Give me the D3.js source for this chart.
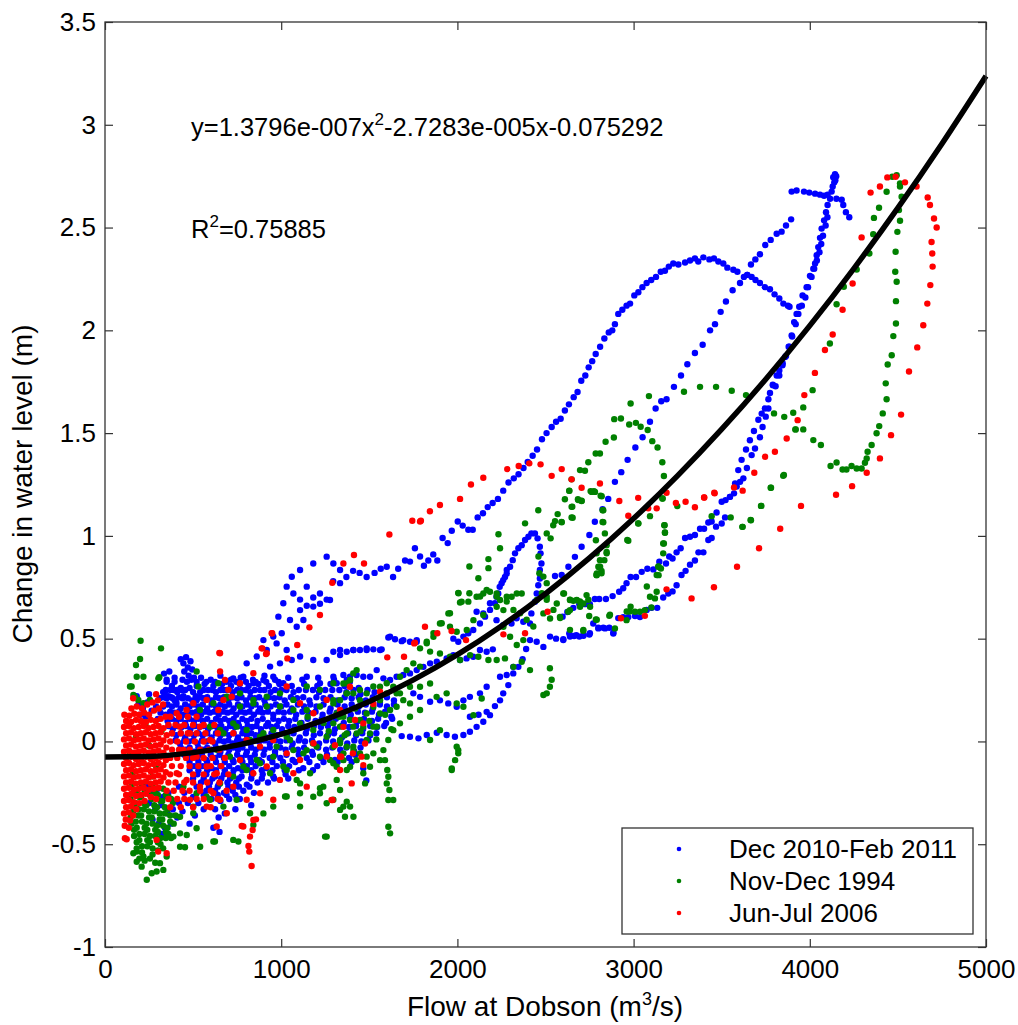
<!DOCTYPE html>
<html>
<head>
<meta charset="utf-8">
<script src="https://cdn.jsdelivr.net/npm/d3@7"></script>
<style>
  body { margin: 0; background: #fff; }
  text { font-family: "Liberation Sans", Arial, sans-serif; fill: #000; }
</style>
</head>
<body>
<svg id="chart" width="1018" height="1025"></svg>
<script>
// axis ticks
const xTicks = [0, 1000, 2000, 3000, 4000, 5000];
const yTicks = [-1, -0.5, 0, 0.5, 1, 1.5, 2, 2.5, 3, 3.5];

const seriesNames = ["Dec 2010-Feb 2011", "Nov-Dec 1994", "Jun-Jul 2006"];
const seriesColors = ["#0000ff", "#008000", "#ff0000"];

// quadratic fit printed on the chart: y = a x^2 + b x + c
const fitCoef = [1.3796e-7, -2.7283e-5, -0.075292];
const fitX = [0, 250, 500, 750, 1000, 1250, 1500, 1750, 2000, 2250, 2500, 2750, 3000, 3250, 3500, 3750, 4000, 4250, 4500, 4750, 5000];

// ---- Dec 2010-Feb 2011 (blue) ----
const blueTracks = [
  [1107,0.69],[1145,0.66],[1182,0.70],[1220,0.67],[1258,0.69],[1295,0.78],[1334,0.77],[1370,0.80],[1408,0.83],[1445,0.82],[1485,0.80],[1530,0.82],[1565,0.84],[1599,0.85],[1635,0.80],[1664,0.84],[1703,0.88],[1731,0.875],[1759,0.94],[1788,0.90],[1810,0.855],[1835,0.88],[1863,0.91],[1886,0.88],[1916,0.99],[1945,0.965],[1968,1.025],[2002,1.07],[2030,1.05],[2062,1.03],[2087,1.03],[2115,1.09],[2145,1.11],[2172,1.14],[2200,1.16],[2230,1.18],[2260,1.22],[2290,1.26],[2320,1.28],[2347,1.30],[2375,1.33],[2399,1.36],[2427,1.39],[2452,1.42],[2480,1.47],[2506,1.50],[2535,1.53],[2560,1.555],[2586,1.57],[2610,1.61],[2633,1.64],[2660,1.675],[2682,1.70],[2703,1.755],[2726,1.78],[2745,1.82],[2765,1.85],[2785,1.885],[2810,1.92],[2834,1.96],[2859,1.99],[2879,2.0],[2894,2.03],[2913,2.08],[2936,2.10],[2960,2.12],[2980,2.13],[3004,2.17],[3027,2.185],[3050,2.21],[3074,2.23],[3100,2.245],[3127,2.26],[3154,2.285],[3178,2.29],[3200,2.31],[3225,2.325],[3254,2.32],[3292,2.33],[3320,2.34],[3348,2.35],[3367,2.335],[3396,2.355],[3430,2.345],[3456,2.35],[3481,2.335],[3509,2.325],[3532,2.305],[3566,2.295],[3589,2.285],[3626,2.26],[3645,2.27],[3670,2.26],[3692,2.245],[3717,2.23],[3745,2.21],[3774,2.20],[3800,2.175],[3827,2.155],[3850,2.13],[3876,2.12],[3885,2.115],
  [2554,0.805],[2592,0.81],[2630,0.85],[2667,0.898],[2705,0.947],[2749,1.004],[2780,1.069],[2824,1.13],[2856,1.18],[2894,1.263],[2930,1.31],[2966,1.37],[3010,1.43],[3051,1.48],[3093,1.555],[3125,1.62],[3157,1.655],[3187,1.665],[3229,1.725],[3269,1.78],[3305,1.835],[3348,1.89],[3392,1.93],[3434,2.0],[3462,2.03],[3494,2.09],[3524,2.14],[3562,2.195],[3604,2.23],[3645,2.27],[3666,2.32],[3691,2.345],[3717,2.37],[3747,2.415],[3778,2.44],[3812,2.47],[3840,2.48],[3865,2.51],[3894,2.54],
  [3897,2.675],[3925,2.68],[3967,2.675],[3997,2.67],[4030,2.665],[4058,2.66],[4081,2.655],[4101,2.66],[4143,2.76],[4133,2.745],[4139,2.72],[4130,2.70],[4124,2.675],[4115,2.64],[4151,2.64],[4181,2.635],[4190,2.61],[4205,2.575],[4224,2.55],[4145,2.73],[4150,2.75],
  [4101,2.61],[4092,2.575],[4081,2.535],[4067,2.495],[4058,2.45],[4048,2.405],[4039,2.365],[4030,2.325],[4020,2.30],[4001,2.265],[3982,2.21],[3959,2.17],[3940,2.115],[3925,2.08],[3911,2.04],[3897,1.975],[3884,1.92],[3865,1.875],[3846,1.84],[3827,1.805],[3812,1.78],[3790,1.735],[3774,1.695],[3765,1.665],[3745,1.62],[3727,1.595],[3708,1.565],[3683,1.51],[3660,1.465],[3638,1.42],[3613,1.37],[3594,1.32],[3576,1.255],[3547,1.19],[3519,1.09],[3500,1.06],[3468,1.045],[3443,0.99],[3424,0.98],[3396,0.92],[3368,0.92],[3348,0.88],[3320,0.86],[3295,0.83],[3272,0.81],[3244,0.76],[3221,0.73],[3197,0.72],[3168,0.70],[3134,0.65],[3102,0.65],[3074,0.64],[3036,0.605],[3008,0.61],[2970,0.605],[2941,0.605],[2913,0.60],[2885,0.525],[2862,0.553],[2828,0.553],[2800,0.553],[2771,0.574],[2749,0.52],[2715,0.514],[2692,0.51],[2662,0.513],[2635,0.525],[2601,0.497],
  [2597,0.607],[2624,0.63],[2658,0.65],[2692,0.667],[2724,0.668],[2752,0.668],[2780,0.693],[2805,0.693],[2843,0.693],[2881,0.707],[2918,0.728],[2941,0.745],[2960,0.77],[2983,0.80],[3014,0.80],[3046,0.825],[3078,0.84],[3112,0.837],[3146,0.874],[3184,0.866],[3202,0.90],[3221,0.89],[3244,0.92],[3267,0.94],[3292,0.99],[3320,0.996],[3348,1.004],[3377,1.035],[3400,1.035],[3424,1.065],[3443,1.07],[3471,1.114],[3500,1.166],[3522,1.174],[3547,1.19],[3570,1.207],[3585,1.24],[3604,1.263],[3623,1.28],[3643,1.33],[3670,1.393],[3689,1.425],[3717,1.48],[3732,1.53],[3750,1.58],[3765,1.62],[3791,1.733],[3806,1.728],[3827,1.78],[3845,1.83],[3860,1.87],[3880,1.92],[3900,1.97],[3920,2.03],[3935,2.08],[3955,2.12],[3975,2.16],[3990,2.21],[4010,2.26],[4025,2.30],[4040,2.34],[4055,2.38],[4065,2.42],[4075,2.46],[4090,2.51],[4100,2.55],
  [1977,0.50],[2005,0.485],[2034,0.51],[2062,0.526],[2090,0.542],[2128,0.574],[2157,0.607],[2185,0.64],[2213,0.672],[2232,0.72],[2251,0.77],[2270,0.80],[2280,0.834],[2299,0.85],[2314,0.882],[2327,0.915],[2346,0.94],[2365,0.955],[2384,0.98],[2403,0.996],[2420,1.012],[2440,1.012],[2455,0.988],[2468,0.947],[2472,0.915],[2477,0.866],[2468,0.834],[2468,0.793],[2459,0.76],[2450,0.72],[2440,0.68],[2420,0.623],
  [1296,0.436],[1334,0.42],[1372,0.436],[1409,0.445],[1447,0.445],[1485,0.453],[1523,0.448],[1570,0.448],[1608,0.506],[1646,0.497],[1684,0.488],[1731,0.485],[1769,0.493],
  [1684,0.026],[1731,0.023],[1779,0.015],[1826,0.031],[1883,0.042],[1939,0.031],[1986,0.023],[2034,0.031],[2071,0.047],[2109,0.071],[2147,0.096],[2185,0.128],[2213,0.172],[2242,0.20],[2260,0.234],[2289,0.274],[2317,0.331],[2346,0.363],[2370,0.40],[2390,0.45],
  [2412,0.493],[2450,0.485],[2488,0.46],[2526,0.51],[2560,0.50],[2601,0.493],[2639,0.51],[2675,0.517],[2715,0.517],[2752,0.526],[2800,0.55],[2838,0.55],[2885,0.529],
  [2109,0.631],[2147,0.623],[2185,0.672],[2222,0.704],[2240,0.752],[2260,0.785],[2280,0.817],[2222,0.59],[2260,0.566],[2307,0.574],[2336,0.599],[2374,0.582],[2412,0.574],
  [2201,0.448],[2166,0.436],[2128,0.445],[2090,0.412],[2052,0.404],[2015,0.396],[1977,0.42],[1939,0.404],[1883,0.388],[1845,0.38],[1807,0.363],[1769,0.347],[1731,0.331],[1693,0.323],[1655,0.315],[1618,0.299],[1580,0.307],[1542,0.347],[1504,0.315],[1466,0.315],[1428,0.323],[1390,0.315],[1353,0.323],[1315,0.283],
  [1750,0.234],[1788,0.217],[1845,0.193],[1901,0.20],[1948,0.185],[1996,0.169],[2034,0.20],[2071,0.217],[2128,0.234],[2166,0.266],[2242,0.315],[2280,0.323],[2317,0.363],[2071,0.12],[2120,0.13],[2166,0.144]
];
const blueCloud = [
  [430,0.40],[445,0.38],[460,0.41],[470,0.36],[485,0.39],[450,0.34],[475,0.32],[495,0.35],[440,0.30],[465,0.29],[490,0.30],[505,0.31],[455,0.25],[480,0.26],[500,0.24],[430,0.26],[445,0.22],[470,0.21],[495,0.20],[515,0.22],
  [335,0.33],[350,0.30],[365,0.34],[380,0.27],[395,0.31],[410,0.25],[340,0.24],[360,0.22],[385,0.21],[405,0.19],
  [190,0.18],[215,0.16],[240,0.19],[265,0.15],[290,0.17],[315,0.14],[230,0.12],[300,0.11],[200,0.13],[180,0.22],[250,0.23],[310,0.21],
  [545,0.31],[600,0.30],[655,0.32],[715,0.30],[770,0.31],[840,0.30],[905,0.32],[965,0.30],[1040,0.31],[1120,0.30],[1210,0.31],[1300,0.30],[1390,0.29],
  [520,0.27],[565,0.28],[615,0.27],[665,0.28],[715,0.27],[765,0.28],[815,0.27],[870,0.28],[930,0.27],[990,0.28],[1060,0.27],[1130,0.28],[1205,0.27],[1280,0.28],[1360,0.27],[1440,0.26],
  [330,0.24],[370,0.25],[410,0.24],[540,0.24],[585,0.25],[630,0.24],[675,0.25],[725,0.24],[775,0.25],[825,0.24],[880,0.25],[940,0.24],[1000,0.25],[1070,0.24],[1140,0.25],[1215,0.24],[1290,0.25],[1370,0.24],[1450,0.23],[1530,0.24],
  [350,0.21],[395,0.20],[440,0.21],[520,0.20],[560,0.21],[605,0.20],[650,0.21],[700,0.20],[750,0.21],[800,0.20],[850,0.21],[905,0.20],[960,0.21],[1020,0.20],[1090,0.21],[1160,0.20],[1240,0.21],[1320,0.20],[1400,0.21],[1480,0.20],[1560,0.19],[1640,0.20],
  [330,0.17],[380,0.17],[430,0.16],[480,0.17],[530,0.17],[580,0.16],[630,0.17],[680,0.17],[730,0.16],[780,0.17],[830,0.17],[880,0.16],[940,0.17],[1000,0.17],[1060,0.16],[1130,0.17],[1200,0.17],[1280,0.16],[1360,0.17],[1440,0.17],[1520,0.16],[1600,0.17],
  [345,0.13],[395,0.14],[445,0.13],[495,0.14],[545,0.13],[595,0.14],[645,0.13],[695,0.14],[745,0.13],[795,0.14],[845,0.13],[895,0.14],[955,0.13],[1015,0.14],[1085,0.13],[1155,0.14],[1235,0.13],[1315,0.14],[1395,0.13],[1475,0.14],[1555,0.13],[1625,0.12],
  [355,0.10],[405,0.10],[455,0.09],[505,0.10],[555,0.10],[605,0.09],[655,0.10],[705,0.10],[755,0.09],[805,0.10],[865,0.10],[925,0.09],[985,0.10],[1045,0.10],[1115,0.09],[1195,0.10],[1275,0.10],[1355,0.09],[1435,0.10],[1515,0.10],[1595,0.09],
  [385,0.06],[435,0.07],[485,0.06],[535,0.07],[585,0.06],[635,0.07],[685,0.06],[735,0.07],[785,0.06],[835,0.07],[885,0.06],[945,0.07],[1005,0.06],[1075,0.07],[1145,0.06],[1225,0.07],[1305,0.06],[1385,0.07],[1465,0.06],[1545,0.07],
  [405,0.03],[455,0.02],[505,0.03],[555,0.03],[605,0.02],[655,0.03],[705,0.03],[755,0.02],[805,0.03],[855,0.03],[915,0.02],[975,0.03],[1035,0.03],[1105,0.02],[1185,0.03],[1265,0.03],[1345,0.02],[1425,0.03],[1505,0.03],
  [425,-0.01],[475,0.0],[525,-0.01],[575,0.0],[625,-0.01],[675,0.0],[725,-0.01],[775,0.0],[825,-0.01],[875,0.0],[935,-0.01],[995,0.0],[1065,-0.01],[1135,0.0],[1215,-0.01],[1295,0.0],[1375,-0.01],[1455,0.0],
  [455,-0.04],[505,-0.05],[555,-0.04],[605,-0.04],[655,-0.05],[705,-0.04],[755,-0.04],[805,-0.05],[855,-0.04],[905,-0.04],[965,-0.05],[1025,-0.04],[1095,-0.04],[1175,-0.05],[1255,-0.04],[1335,-0.04],[1415,-0.05],
  [475,-0.08],[525,-0.08],[575,-0.09],[625,-0.08],[675,-0.08],[725,-0.09],[775,-0.08],[825,-0.08],[875,-0.09],[935,-0.08],[995,-0.08],[1065,-0.09],[1145,-0.08],[1225,-0.08],[1305,-0.09],[1385,-0.08],[1466,-0.13],[1483,-0.19],
  [505,-0.12],[555,-0.12],[605,-0.13],[655,-0.12],[705,-0.12],[755,-0.13],[805,-0.12],[855,-0.12],[915,-0.13],[975,-0.12],[1045,-0.12],[1125,-0.13],[1205,-0.12],
  [525,-0.16],[575,-0.16],[625,-0.17],[675,-0.16],[725,-0.16],[775,-0.17],[835,-0.16],[895,-0.16],[955,-0.17],[1025,-0.16],
  [545,-0.20],[595,-0.20],[645,-0.21],[695,-0.20],[745,-0.20],[805,-0.21],[865,-0.20],[925,-0.20],
  [575,-0.24],[625,-0.24],[675,-0.25],[725,-0.24],[785,-0.24],[845,-0.25],
  [605,-0.28],[655,-0.29],[705,-0.28],[765,-0.28],[830,-0.31],
  [625,-0.33],[645,-0.37],[615,-0.42],[650,-0.44],[680,-0.35],[740,-0.33],
  [240,-0.22],[270,-0.25],[300,-0.23],[330,-0.27],[360,-0.25],[390,-0.29],[250,-0.30],[285,-0.33],[320,-0.31],[355,-0.35],[385,-0.33],[420,-0.30],[270,-0.38],[305,-0.40],[340,-0.42],[375,-0.40],[410,-0.37],[440,-0.34],[320,-0.45],[360,-0.46],[470,-0.30],[450,-0.25],[420,-0.22],[500,-0.27],[530,-0.30],[560,-0.33],[510,-0.36],[480,-0.40],
  [728,0.307],[785,0.315],[842,0.283],[899,0.299],[955,0.315],[1012,0.283],[804,0.38],[861,0.413],[918,0.445],[974,0.477],[1003,0.526],[955,0.51],[899,0.493],[1031,0.445],[1060,0.396],[993,0.38],[937,0.364],[1107,0.413],[1182,0.396],[1258,0.396],[1334,0.445],[1410,0.445],[1485,0.445],[1561,0.445],[1618,0.51],[1693,0.493],[1769,0.485],[766,0.234],[691,0.25],[1145,0.315],[1220,0.283],[1296,0.315],[1372,0.299],
  [1107,0.639],[1182,0.656],[1069,0.72],[1145,0.753],[1220,0.72],[1277,0.688],[1060,0.801],[1107,0.834],[1182,0.866],[1258,0.899],[1296,0.866],[1334,0.834],[1031,0.753],[1012,0.672],[984,0.607],[1050,0.591],[1088,0.558],[1126,0.591]
];
// second, offset layer of the dense blue mass
const blueCloud2 = [
  [350,0.29],[395,0.29],[520,0.29],[575,0.29],[625,0.29],[690,0.29],[745,0.29],[800,0.29],[855,0.29],[915,0.29],[985,0.29],
  [345,0.25],[390,0.25],[435,0.25],[560,0.25],[610,0.25],[655,0.25],[700,0.25],[750,0.25],[800,0.25],[850,0.25],[905,0.25],[965,0.25],[1030,0.25],[1100,0.25],
  [330,0.215],[375,0.215],[420,0.215],[540,0.215],[580,0.215],[630,0.215],[675,0.215],[725,0.215],[775,0.215],[825,0.215],[875,0.215],[930,0.215],[990,0.215],[1055,0.215],[1125,0.215],
  [355,0.18],[405,0.18],[455,0.18],[505,0.18],[555,0.18],[605,0.18],[655,0.18],[705,0.18],[755,0.18],[805,0.18],[855,0.18],[910,0.18],[970,0.18],[1030,0.18],[1095,0.18],[1165,0.18],
  [370,0.145],[420,0.145],[470,0.145],[520,0.145],[570,0.145],[620,0.145],[670,0.145],[720,0.145],[770,0.145],[820,0.145],[870,0.145],[925,0.145],[985,0.145],[1050,0.145],[1120,0.145],
  [380,0.11],[430,0.11],[480,0.11],[530,0.11],[580,0.11],[630,0.11],[680,0.11],[730,0.11],[780,0.11],[830,0.11],[895,0.11],[955,0.11],[1015,0.11],[1080,0.11],[1150,0.11],
  [360,0.075],[410,0.075],[460,0.075],[510,0.075],[560,0.075],[610,0.075],[660,0.075],[710,0.075],[760,0.075],[810,0.075],[860,0.075],[915,0.075],[975,0.075],[1040,0.075],[1110,0.075],
  [380,0.04],[430,0.04],[480,0.04],[530,0.04],[580,0.04],[630,0.04],[680,0.04],[730,0.04],[780,0.04],[830,0.04],[885,0.04],[945,0.04],[1005,0.04],[1070,0.04],[1140,0.04],
  [400,0.005],[450,0.005],[500,0.005],[550,0.005],[600,0.005],[650,0.005],[700,0.005],[750,0.005],[800,0.005],[850,0.005],[905,0.005],[965,0.005],[1030,0.005],[1100,0.005],
  [430,-0.03],[480,-0.03],[530,-0.03],[580,-0.03],[630,-0.03],[680,-0.03],[730,-0.03],[780,-0.03],[830,-0.03],[880,-0.03],[935,-0.03],[995,-0.03],[1060,-0.03],
  [450,-0.065],[500,-0.065],[550,-0.065],[600,-0.065],[650,-0.065],[700,-0.065],[750,-0.065],[800,-0.065],[850,-0.065],[900,-0.065],[965,-0.065],[1030,-0.065],[1100,-0.065],
  [480,-0.10],[530,-0.10],[580,-0.10],[630,-0.10],[680,-0.10],[730,-0.10],[780,-0.10],[830,-0.10],[890,-0.10],[950,-0.10],[1010,-0.10],
  [480,-0.14],[530,-0.14],[580,-0.14],[630,-0.14],[680,-0.14],[730,-0.14],[780,-0.14],[830,-0.14],[890,-0.14],[950,-0.14],
  [500,-0.18],[560,-0.18],[610,-0.18],[660,-0.18],[710,-0.18],[760,-0.18],[830,-0.18],[890,-0.18],
  [520,-0.22],[590,-0.22],[640,-0.22],[700,-0.22],[760,-0.22],[820,-0.22],
  [560,-0.26],[640,-0.26],[690,-0.26],[740,-0.26]
];
// thinner blue band further right (1100-1650 m3/s)
const blueCloud3 = [
  [1180,0.25],[1250,0.25],[1330,0.25],[1410,0.25],[1490,0.25],
  [1200,0.215],[1280,0.215],[1360,0.215],[1440,0.215],[1520,0.215],[1600,0.215],
  [1240,0.18],[1320,0.18],[1400,0.18],[1480,0.18],[1560,0.18],[1640,0.18],
  [1195,0.145],[1275,0.145],[1355,0.145],[1435,0.145],[1515,0.145],[1590,0.145],
  [1230,0.11],[1310,0.11],[1390,0.11],[1470,0.11],[1550,0.11],[1630,0.11],
  [1185,0.075],[1265,0.075],[1345,0.075],[1425,0.075],[1505,0.075],[1585,0.075],
  [1220,0.04],[1300,0.04],[1380,0.04],[1460,0.04],[1540,0.04],
  [1175,0.005],[1255,0.005],[1335,0.005],[1415,0.005],[1495,0.005],
  [1130,-0.03],[1210,-0.03],[1290,-0.03],[1370,-0.03],[1450,-0.03],
  [1180,-0.065],[1260,-0.065],[1340,-0.065],[1420,-0.065],
  [1080,-0.10],[1160,-0.10],[1240,-0.10],[1320,-0.10],[1400,-0.10],
  [1020,-0.14],[1100,-0.14],[1180,-0.14],
  [960,-0.18],[1040,-0.18]
];

// ---- Nov-Dec 1994 (green) ----
const greenTracks = [
  [4493,2.755],[4468,2.747],[4512,2.715],[4512,2.70],[4436,2.674],[4521,2.65],[4393,2.596],[4506,2.585],[4364,2.547],[4512,2.533],[4360,2.468],[4497,2.479],[4338,2.374],[4487,2.382],[4266,2.296],[4485,2.285],[4493,2.236],[4193,2.212],[4489,2.142],[4152,2.127],[4489,2.033],[4474,1.972],[4114,1.936],[4465,1.879],[4442,1.834],[4431,1.742],[4016,1.709],[4436,1.665],[4414,1.596],[4394,1.534],[4379,1.499],[4351,1.442],[4328,1.409],[4323,1.377],[4313,1.356],[4294,1.328],[4266,1.328],[4237,1.34],[4208,1.323],[4186,1.323],[4152,1.357],[4118,1.34],
  [3963,1.625],[3906,1.599],[3855,1.579],[3797,1.596],[3963,1.518],[3920,1.518],[4020,1.466],[4063,1.442],[3638,1.685],[3557,1.706],[3468,1.725],[3377,1.725],[3853,1.296],[3778,1.234],[3286,1.701],
  [3087,1.68],[2983,1.644],[2890,1.568],[2928,1.571],[2975,1.542],[3013,1.55],[3040,1.531],[3080,1.515],[3106,1.461],[3136,1.43],[3163,1.358],[3172,1.291],[3163,1.182],[3176,1.052],[2888,1.479],[2841,1.458],[2809,1.401],[2785,1.401],[2743,1.358],[2696,1.32],[2724,1.317],[2648,1.275],[2635,1.22],[2610,1.178],[2652,1.142],[2569,1.106],[2459,1.125],[2384,1.061],[2684,1.178],[2705,1.171],[2756,1.218],[2775,1.218],[2813,1.195],[2824,1.125],[2828,1.066],[2648,1.09],[2592,1.066],[2544,1.052],[2554,1.072],
  [3918,1.518],[3849,1.292],[3725,1.146],[3664,1.077],[3619,1.044],[3551,1.09],[3443,1.096],[3617,1.044],[3666,1.076],[3723,1.146],[3780,1.234],
  [3178,1.017],[3168,0.963],[3168,0.915],[3140,0.85],[3131,0.81],[2233,1.008],[2176,0.887],[2068,0.851],[2119,0.794],[2176,0.843],[2242,0.94],[2507,1.012],[2529,0.988],[2790,0.915],[2809,0.882],[2800,0.85],[2818,0.818],[2790,0.81],[2847,0.915],[2964,0.98],[3026,1.061],
  [2635,1.219],[2686,1.174],[2705,1.17],[2762,1.214],[2781,1.214],[2819,1.193],[2828,1.125],[2648,1.141],[2654,1.088],[2591,1.068],[2824,1.068],[2786,0.979],[2837,1.012],[2847,0.955],[2847,0.922],[2834,0.882],[2805,0.846],[2818,0.83],[2790,0.809],[2970,0.976],[3027,1.06],[3093,1.096],[3165,1.182],[3248,1.145],[3174,1.052],[3178,1.015],[3172,0.963],[3155,0.841],[3142,0.809],[3131,0.728],[3093,0.704],[3121,0.696],[3101,0.652],[3064,0.639],[3036,0.631],[3008,0.631],[2983,0.655],[2960,0.59],[2894,0.55],[2862,0.611],[2786,0.593],[2748,0.61],[2733,0.712],[2696,0.655],[2658,0.684],[2677,0.687],[2629,0.631],[2605,0.72],[2714,0.538],
  [2068,0.721],[2015,0.676],[1958,0.624],[1911,0.575],[1864,0.527],[1826,0.478],[2006,0.721],[2129,0.705],[2166,0.737],[2223,0.705],[2280,0.681],[2318,0.64],[2356,0.624],[2393,0.592],[2431,0.559],[2460,0.90],[2465,0.818],[2488,0.802],[2507,0.77],[2479,0.721],[2507,0.689],[2545,0.64],[2583,0.60],[2639,0.689],[2696,0.681],[2743,0.689],[2639,0.543],[2715,0.543],[2791,0.592],[2866,0.616],[2961,0.632],[2978,0.632],[3075,0.754],[3141,0.851],
  [2005,0.723],[2024,0.68],[2062,0.68],[2109,0.704],[2147,0.72],[2185,0.728],[2223,0.72],[2242,0.688],[2280,0.704],[2308,0.704],[2337,0.72],[2365,0.72],[2223,0.655],[2261,0.639],[2147,0.615],[2091,0.59],[2053,0.542],[1949,0.623],[1958,0.558],[1996,0.534],[1901,0.574],[1864,0.509],[1826,0.485],[1788,0.453],[1845,0.437],[1901,0.428],[1958,0.412],[2015,0.396],[2072,0.42],[2119,0.412],[2176,0.396],[2223,0.396],[2270,0.404],[2318,0.363],[2365,0.388],[2412,0.347],[2337,0.469],[2374,0.493],[2299,0.509],[2261,0.558],[2450,0.688],[2507,0.704],[2564,0.671],[2601,0.72],[2639,0.688],[2677,0.688],[2715,0.671],[2753,0.655],[2791,0.817],[2810,0.85],[2488,0.623],[2526,0.598],[2582,0.606],[2639,0.639],
  [2525,0.356],[2535,0.30],[2525,0.266],[2507,0.234],[2488,0.226]
];
const greenCloud = [
  [1750,0.38],[1712,0.347],[1674,0.315],[1636,0.266],[1599,0.234],[1561,0.201],[1523,0.169],[1485,0.136],[1447,0.104],[1409,0.072],[1372,0.039],[1334,0.007],[1296,-0.026],[1731,0.266],[1788,0.266],[1845,0.282],[1882,0.217],[1939,0.234],[1996,0.185],[2034,0.169],[2091,0.128],[2138,0.209],[1788,0.153],[1731,0.12],[1674,0.088],[1636,0.055],[1608,0.007],[1580,-0.042],[1589,-0.091],[1602,-0.139],[1608,-0.172],[1614,-0.236],[1608,-0.285],[1608,-0.415],[1618,-0.447],[1353,-0.317],[1391,-0.317],[1362,-0.366],[1845,0.007],[1901,0.055],[1996,-0.026],[2005,-0.058],[1987,-0.091],[1968,-0.139],
  [1731,0.185],[1693,0.201],[1655,0.169],[1618,0.153],[1561,0.136],[1542,0.072],[1504,0.039],[1466,0.072],[1428,0.039],[1391,0.104],[1353,0.12],[1315,0.136],[1296,0.088],[1334,0.072],[1372,-0.026],[1409,-0.026],[1447,-0.058],[1485,0.007],[1523,-0.058],[1561,-0.091],[1504,-0.123],[1466,-0.155],[1428,-0.091],[1391,-0.123],[1353,-0.091],[1315,-0.123],[1523,0.072],[1655,0.234],[1561,0.266],[1485,0.234],[1409,0.234],[1447,0.201],[1372,0.234],[1334,0.201],[1296,0.201],[1409,0.331],[1428,0.347],[1391,0.299],[1353,0.282],
  [202,0.49],[318,0.453],[176,0.372],[199,0.401],[142,0.267],[170,0.218],[218,0.315],[308,0.312],[520,0.34],[530,0.267],[643,0.283],[151,0.267],[180,0.315],[161,0.226],[189,0.202],[218,0.186],[255,0.202],[303,0.307],
  [691,0.21],[766,0.17],[842,0.185],[918,0.17],[993,0.17],[1069,0.153],[1145,0.153],[1220,0.17],[1296,0.185],[1372,0.234],[1447,0.25],[1523,0.267],[1599,0.283],[1674,0.234],[1788,0.364],
  [1107,0.088],[1182,0.056],[1258,0.023],[1334,-0.009],[1410,-0.042],[1485,-0.074],[1145,-0.042],[1220,-0.074],[1296,-0.106],[1372,-0.139],[1069,-0.042],[1031,0.023],[955,0.056],[880,0.023],[804,0.056],[728,0.088],[653,0.056],[955,-0.074],[1031,-0.139],[1107,-0.204],[1182,-0.269],[1258,-0.301],[1334,-0.333],[1410,-0.366],[880,-0.106],[804,-0.139],[728,-0.171],[653,-0.204],[577,-0.269],[501,-0.317],[426,-0.366],[1258,-0.463],[624,-0.487],[540,-0.512],[1968,-0.131],[2005,-0.042],[1599,-0.204],[1636,-0.285],
  [539,0.153],[615,0.186],[691,0.218],[766,0.234],[842,0.202],[918,0.218],[993,0.234],[1069,0.202],[1145,0.267],[1220,0.251],[1296,0.283],[1372,0.283],[596,0.072],[672,0.04],[747,0.072],[823,0.007],[899,0.04],[974,-0.025],[1050,0.007],[1126,-0.058],[1201,-0.025],[1277,-0.09],[1353,-0.058],[634,-0.041],[709,-0.074],[785,-0.122],[861,-0.09],[937,-0.155],[1012,-0.122],[1088,-0.187],[1164,-0.155],[1239,-0.22],[1315,-0.187],[445,-0.22],[520,-0.252],[596,-0.284],[672,-0.317],[747,-0.284],[823,-0.349],[501,-0.349],[426,-0.447],[728,-0.479],[1031,-0.268],[1107,-0.317],[1220,-0.252],[1296,-0.284],
  [150,-0.22],[180,-0.24],[210,-0.21],[240,-0.25],[270,-0.22],[300,-0.26],[330,-0.23],[360,-0.27],
  [145,-0.28],[175,-0.30],[205,-0.27],[235,-0.31],[265,-0.28],[295,-0.32],[325,-0.29],[355,-0.33],[385,-0.30],
  [160,-0.34],[190,-0.36],[220,-0.33],[250,-0.37],[280,-0.34],[310,-0.38],[340,-0.35],[370,-0.39],[400,-0.36],
  [150,-0.40],[180,-0.42],[210,-0.39],[240,-0.43],[270,-0.40],[300,-0.44],[330,-0.41],[360,-0.45],
  [165,-0.46],[195,-0.48],[225,-0.45],[255,-0.49],[285,-0.46],[315,-0.50],[345,-0.47],
  [180,-0.52],[210,-0.54],[240,-0.51],[270,-0.55],[300,-0.53],
  [165,-0.25],[195,-0.27],[225,-0.24],[255,-0.26],[285,-0.25],[315,-0.29],[345,-0.26],[375,-0.28],
  [160,-0.31],[190,-0.33],[220,-0.30],[250,-0.34],[280,-0.31],[310,-0.35],[340,-0.32],[370,-0.36],
  [145,-0.37],[175,-0.39],[205,-0.36],[235,-0.40],[265,-0.37],[295,-0.41],[325,-0.38],[355,-0.42],[390,-0.40],
  [165,-0.43],[195,-0.45],[225,-0.42],[255,-0.46],[285,-0.43],[315,-0.47],[345,-0.44],[375,-0.47],
  [180,-0.49],[210,-0.51],[240,-0.48],[270,-0.52],[300,-0.49],[330,-0.52],
  [195,-0.57],[225,-0.58],[255,-0.57],[285,-0.59],
  [180,-0.536],[218,-0.56],[237,-0.673],[293,-0.633],[331,-0.625],[265,-0.641],[312,-0.592],[180,-0.585],[161,-0.544],[208,-0.609],[350,-0.56],[426,-0.512],[454,-0.515],[388,-0.463],[464,-0.455],[520,-0.422],[615,-0.487],[757,-0.487],[842,-0.406],[899,-0.35],[955,-0.317],[1022,-0.268],[1107,-0.252],[1220,-0.228],[1249,-0.463],[1372,-0.293],[1334,-0.236],[1476,-0.204],
  [140,-0.05],[175,0.02],[210,-0.10],[250,-0.02],[290,-0.12],[320,0.05],[230,0.08],[160,-0.15],[270,-0.17],
  [1150,0.12],[1240,0.09],[1330,0.12],[1420,0.16],[1500,0.10],[1590,0.13],[1180,-0.01],[1270,0.05],[1360,0.03],[1450,0.05],[1540,0.01],[1625,0.06]
];

// ---- Jun-Jul 2006 (red) ----
const redTracks = [
  [4440,2.744],[4487,2.747],[4540,2.72],[4606,2.70],[4398,2.70],[4345,2.67],[4669,2.646],[4682,2.61],[4705,2.544],[4720,2.50],[4691,2.43],[4695,2.374],[4697,2.31],[4684,2.22],[4667,2.13],[4644,2.025],[4610,1.917],[4563,1.80],[4518,1.59],[4461,1.49],[4398,1.377],[4323,1.307],[4240,1.242],[4149,1.20],
  [4294,2.452],[4243,2.228],[4186,2.10],[4130,1.98],[4086,1.904],[4029,1.793],[3969,1.685],[3931,1.563],[3869,1.474],[3802,1.409],[3746,1.385],[3685,1.307],[3619,1.22],[3570,1.236],[3458,1.21],[3400,1.187],
  [3950,1.146],[3832,1.035],[3712,0.94],[3587,0.85],[3456,0.75],[3329,0.696],[3187,0.74],[3064,0.611],[2928,0.599],
  [1788,1.07],[1844,1.12],[1901,1.15],[2015,1.18],[2077,1.25],[2147,1.283],[2283,1.325],[2348,1.34],[2408,1.353],[2472,1.348],[2535,1.292],[2592,1.325],[2648,1.275],[2705,1.234],[2809,1.255],[2919,1.17],[2970,1.098],[3026,1.185],[3083,1.134],[3131,1.134],[3187,1.21],[3240,1.16],[3295,1.166],[3348,1.139],[3401,1.187],[3460,1.207],
  [1614,1.007],[1744,1.074],[1793,1.074],[1755,0.477],[1816,0.558],[1886,0.526],[1967,0.537],[2049,0.493],[2261,0.521],[2384,0.526],[2512,0.631],
  [1353,0.866],[1413,0.907],[1470,0.866],[1290,0.772],[949,0.526],[893,0.453],[914,0.425],[1091,0.469],[1035,0.404],[1160,0.555],[1220,0.615],[649,0.431],[1602,0.409],[1697,0.412],[1759,0.48],[1390,0.266],[1561,0.242],[1523,0.182]
];
const redCloud = [
  [150,0.16],[180,0.17],[210,0.16],[240,0.18],[270,0.19],[300,0.20],[330,0.18],[160,0.21],[290,0.23],
  [110,0.13],[138,0.125],[166,0.135],[194,0.13],[222,0.14],[250,0.13],[278,0.15],[306,0.16],
  [120,0.10],[148,0.095],[176,0.105],[204,0.10],[232,0.095],[260,0.105],[288,0.10],[316,0.11],[344,0.12],
  [108,0.07],[136,0.075],[164,0.065],[192,0.07],[220,0.075],[248,0.065],[276,0.07],[304,0.075],[332,0.065],
  [120,0.04],[148,0.045],[176,0.035],[204,0.04],[232,0.045],[260,0.035],[288,0.04],[316,0.045],[350,0.03],
  [108,0.01],[136,0.015],[164,0.005],[192,0.01],[220,0.015],[248,0.005],[276,0.01],[304,0.015],[332,0.005],
  [120,-0.02],[148,-0.015],[176,-0.025],[204,-0.02],[232,-0.015],[260,-0.025],[288,-0.02],[316,-0.015],[348,-0.03],
  [108,-0.05],[136,-0.045],[164,-0.055],[192,-0.05],[220,-0.045],[248,-0.055],[276,-0.05],[304,-0.045],[332,-0.055],
  [120,-0.08],[148,-0.075],[176,-0.085],[204,-0.08],[232,-0.075],[260,-0.085],[288,-0.08],[316,-0.075],[346,-0.09],
  [108,-0.11],[136,-0.105],[164,-0.115],[192,-0.11],[220,-0.105],[248,-0.115],[276,-0.11],[304,-0.105],[332,-0.115],
  [120,-0.14],[148,-0.135],[176,-0.145],[204,-0.14],[232,-0.135],[260,-0.145],[288,-0.14],[316,-0.135],[345,-0.15],
  [108,-0.17],[136,-0.165],[164,-0.175],[192,-0.17],[220,-0.165],[248,-0.175],[276,-0.17],[304,-0.165],[332,-0.175],
  [120,-0.20],[148,-0.195],[176,-0.205],[204,-0.20],[232,-0.195],[260,-0.205],[288,-0.20],[316,-0.195],
  [108,-0.23],[136,-0.225],[164,-0.235],[192,-0.23],[220,-0.225],[248,-0.235],[276,-0.23],[304,-0.225],
  [120,-0.26],[148,-0.255],[176,-0.265],[204,-0.26],[232,-0.255],[260,-0.27],[290,-0.28],
  [108,-0.29],[136,-0.285],[164,-0.295],[195,-0.30],[225,-0.29],
  [120,-0.32],[148,-0.315],[178,-0.33],[108,-0.35],[134,-0.345],[160,-0.36],[118,-0.38],[142,-0.385],[112,-0.41],[135,-0.42],
  [370,0.12],[420,0.12],[470,0.12],[520,0.12],
  [360,0.08],[400,0.08],[450,0.08],[500,0.08],[560,0.08],[620,0.08],
  [380,0.04],[430,0.04],[470,0.04],[520,0.04],[570,0.04],[640,0.04],
  [370,0.0],[410,0.0],[460,0.0],[510,0.0],[560,0.0],[610,0.0],
  [380,-0.04],[420,-0.04],[480,-0.04],[540,-0.04],[590,-0.04],[650,-0.04],
  [370,-0.08],[410,-0.08],[460,-0.08],[500,-0.08],[560,-0.08],[610,-0.08],[680,-0.08],
  [380,-0.12],[430,-0.12],[480,-0.12],[530,-0.12],[600,-0.12],[660,-0.12],
  [370,-0.16],[420,-0.16],[500,-0.16],[560,-0.16],[620,-0.16],[700,-0.16],
  [360,-0.20],[400,-0.20],[450,-0.20],[500,-0.20],[580,-0.20],[650,-0.20],
  [350,-0.24],[390,-0.24],[440,-0.24],[480,-0.24],[540,-0.24],[600,-0.24],[690,-0.24],
  [360,-0.28],[410,-0.28],[450,-0.28],[520,-0.28],[560,-0.28],[640,-0.28],
  [370,-0.32],[430,-0.32],[500,-0.32],[600,-0.32],
  [407,0.137],[463,0.153],[501,0.186],[577,0.202],[426,0.072],[482,0.04],[539,0.072],[596,0.007],[445,-0.041],[520,-0.074],[577,-0.122],[634,-0.155],[407,-0.155],[463,-0.187],[539,-0.22],[615,-0.252],[482,-0.284],[577,-0.317],[653,-0.284],
  [653,0.429],[653,0.34],[681,0.299],[700,0.251],[672,0.202],[643,0.153],[719,0.218],[766,0.283],[842,0.332],[889,0.453],[918,0.429],[946,0.526],[1031,0.267],[1107,0.186],[1183,0.137],[1258,0.202],[1334,0.153],
  [728,0.04],[804,0.007],[880,-0.025],[955,0.007],[1031,-0.058],[1107,-0.09],[1183,-0.009],[1258,-0.074],[1334,-0.139],[766,-0.09],[842,-0.155],[918,-0.122],[993,-0.187],[1069,-0.155],[1145,-0.22],[728,-0.22],[804,-0.284],[880,-0.252],[955,-0.284],[691,-0.349],[785,-0.414],[842,-0.382],[634,-0.414],[350,-0.544],[293,-0.479],[113,-0.471],[823,-0.463],
  [832,-0.606],[819,-0.536],[814,-0.509],[776,-0.411],[838,-0.431],[857,-0.379],[123,-0.476],[302,-0.536],[1286,-0.285],[1334,-0.074],
  [1353,0.071],[1419,0.104],[1466,0.088],[1476,-0.01],[1305,-0.018],[1341,-0.074],[1407,-0.058],[1456,-0.074],[1466,-0.115],[1400,-0.204],[1292,-0.285]
];

const svg = d3.select("#chart");
const x = d3.scaleLinear().domain([0, 5000]).range([105, 986]);
const y = d3.scaleLinear().domain([-1, 3.5]).range([947, 22]);

const seriesData = [
  blueTracks.concat(blueCloud, blueCloud2, blueCloud3),
  greenTracks.concat(greenCloud),
  redTracks.concat(redCloud)
];

// scatter dots, blue first then green then red on top
seriesData.forEach(function (pts, i) {
  svg.append("g")
    .selectAll("circle")
    .data(pts)
    .enter()
    .append("circle")
    .attr("cx", d => x(d[0]))
    .attr("cy", d => y(d[1]))
    .attr("r", 3.2)
    .attr("fill", seriesColors[i]);
});

// fitted curve
const fitLine = d3.line()
  .x(d => x(d))
  .y(d => y(fitCoef[0] * d * d + fitCoef[1] * d + fitCoef[2]))
  .curve(d3.curveMonotoneX);

svg.append("path")
  .datum(fitX)
  .attr("d", fitLine)
  .attr("fill", "none")
  .attr("stroke", "#000")
  .attr("stroke-width", 5.5);

// axes, ticks inside on all four sides
const tickLen = 8;
const axisColor = "#333";

svg.append("g")
  .attr("transform", "translate(0,947)")
  .call(d3.axisBottom(x).tickValues(xTicks).tickSize(-tickLen).tickPadding(13).tickFormat(d => String(d)));
svg.append("g")
  .attr("transform", "translate(0,22)")
  .call(d3.axisTop(x).tickValues(xTicks).tickSize(-tickLen).tickFormat(""));
svg.append("g")
  .attr("transform", "translate(105,0)")
  .call(d3.axisLeft(y).tickValues(yTicks).tickSize(-tickLen).tickPadding(9).tickFormat(d => String(d)));
svg.append("g")
  .attr("transform", "translate(986,0)")
  .call(d3.axisRight(y).tickValues(yTicks).tickSize(-tickLen).tickFormat(""));

svg.selectAll(".domain").remove();
svg.selectAll(".tick line").attr("stroke", axisColor).attr("stroke-width", 1.2);
svg.selectAll(".tick text")
  .attr("font-size", 26)
  .attr("font-family", "Liberation Sans, Arial, sans-serif")
  .attr("fill", "#000");

svg.append("rect")
  .attr("x", 105).attr("y", 22)
  .attr("width", 881).attr("height", 925)
  .attr("fill", "none")
  .attr("stroke", axisColor)
  .attr("stroke-width", 1.3);

// axis labels
const xLab = svg.append("text")
  .attr("x", 545).attr("y", 1016)
  .attr("text-anchor", "middle")
  .attr("font-size", 28);
xLab.append("tspan").text("Flow at Dobson (m");
xLab.append("tspan").attr("font-size", 18).attr("dy", -11).text("3");
xLab.append("tspan").attr("dy", 11).text("/s)");

svg.append("text")
  .attr("transform", "translate(32,484) rotate(-90)")
  .attr("text-anchor", "middle")
  .attr("font-size", 28)
  .text("Change in water level (m)");

// fit annotation
const eq = svg.append("text")
  .attr("x", 191).attr("y", 136)
  .attr("font-size", 25.5);
eq.append("tspan").text("y=1.3796e-007x");
eq.append("tspan").attr("font-size", 17).attr("dy", -11).text("2");
eq.append("tspan").attr("dy", 11).text("-2.7283e-005x-0.075292");

const r2 = svg.append("text")
  .attr("x", 191).attr("y", 238)
  .attr("font-size", 25.5);
r2.append("tspan").text("R");
r2.append("tspan").attr("font-size", 17).attr("dy", -11).text("2");
r2.append("tspan").attr("dy", 11).text("=0.75885");

// legend
const legend = svg.append("g");
legend.append("rect")
  .attr("x", 622).attr("y", 828)
  .attr("width", 351).attr("height", 106)
  .attr("fill", "#fff")
  .attr("stroke", axisColor)
  .attr("stroke-width", 1.3);

seriesNames.forEach(function (name, i) {
  const rowY = 849 + i * 32;
  legend.append("circle")
    .attr("cx", 679).attr("cy", rowY)
    .attr("r", 2.3)
    .attr("fill", seriesColors[i]);
  legend.append("text")
    .attr("x", 729).attr("y", rowY + 9)
    .attr("font-size", 26)
    .text(name);
});
</script>
</body>
</html>
